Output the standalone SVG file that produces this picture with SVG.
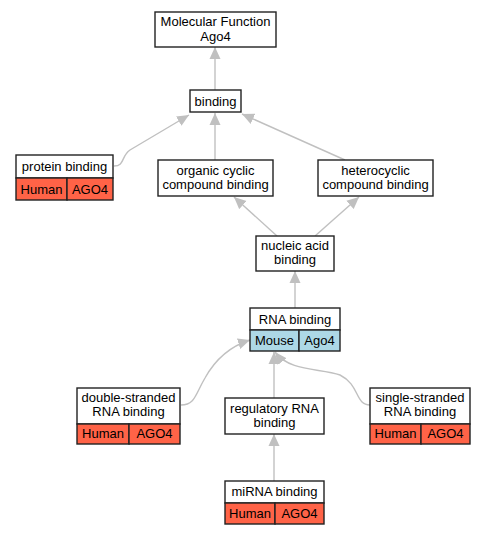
<svg xmlns="http://www.w3.org/2000/svg" width="485" height="536" viewBox="0 0 485 536">
<style>
text{font-family:"Liberation Sans",Arial,sans-serif;font-size:13px;text-anchor:middle;fill:#000}
.b{fill:#fff;stroke:#222;stroke-width:1.4}
.h{fill:#ff6347;stroke:#222;stroke-width:1.4}
.m{fill:#add8e6;stroke:#222;stroke-width:1.4}
.e{fill:none;stroke:#c0c0c0;stroke-width:1.4;marker-end:url(#a)}
</style>
<defs>
<marker id="a" markerUnits="userSpaceOnUse" markerWidth="13" markerHeight="12" viewBox="0 0 13 12" refX="12" refY="6" orient="auto">
<path d="M0,0.5 L12,6 L0,11.5 z" fill="#c0c0c0"/>
</marker>
</defs>
<rect width="485" height="536" fill="#fff"/>
<g id="edges">
<path class="e" d="M215,90 L215,47"/>
<path class="e" d="M114,166 C125,166 121,156 130,150 L189,115"/>
<path class="e" d="M215,160 L215,113"/>
<path class="e" d="M345,160 L242,114"/>
<path class="e" d="M277,236 L234,197"/>
<path class="e" d="M315,236 L359,197"/>
<path class="e" d="M295,308 L295,271"/>
<path class="e" d="M181,405 C195,405 195,395 205,378 C215,360 228,347 250,340"/>
<path class="e" d="M274,398 L274,352"/>
<path class="e" d="M370,405 C355,405 360,385 340,375 C320,368 290,372 275,352"/>
<path class="e" d="M274,481 L274,434"/>
</g>
<g id="n_mf"><rect class="b" x="155" y="12" width="121" height="35"/><text x="215.5" y="26">Molecular Function</text><text x="215.5" y="41">Ago4</text></g>
<g id="n_binding"><rect class="b" x="190" y="90" width="51" height="22"/><text x="215.5" y="105.5">binding</text></g>
<g id="n_protein"><rect class="b" x="16" y="155" width="97" height="23"/><text x="64.5" y="171">protein binding</text><rect class="h" x="16" y="178" width="51" height="22"/><text x="41.5" y="193.5">Human</text><rect class="h" x="67" y="178" width="46" height="22"/><text x="90" y="193.5">AGO4</text></g>
<g id="n_organic"><rect class="b" x="158" y="160" width="115" height="36"/><text x="215.5" y="174.5">organic cyclic</text><text x="215.5" y="188.5">compound binding</text></g>
<g id="n_hetero"><rect class="b" x="318" y="160" width="115" height="36"/><text x="375.5" y="174.5">heterocyclic</text><text x="375.5" y="188.5">compound binding</text></g>
<g id="n_nucleic"><rect class="b" x="256" y="236" width="78" height="35"/><text x="295" y="250">nucleic acid</text><text x="295" y="264">binding</text></g>
<g id="n_rna"><rect class="b" x="250" y="308" width="90" height="22"/><text x="295" y="323.5">RNA binding</text><rect class="m" x="250" y="330" width="49" height="21"/><text x="274.5" y="345">Mouse</text><rect class="m" x="299" y="330" width="41" height="21"/><text x="319.5" y="345">Ago4</text></g>
<g id="n_ds"><rect class="b" x="77" y="388" width="103" height="36"/><text x="128.5" y="402">double-stranded</text><text x="128.5" y="415.5">RNA binding</text><rect class="h" x="77" y="424" width="52" height="20"/><text x="103" y="438">Human</text><rect class="h" x="129" y="424" width="51" height="20"/><text x="154.5" y="438">AGO4</text></g>
<g id="n_reg"><rect class="b" x="225" y="398" width="99" height="36"/><text x="274.5" y="412.5">regulatory RNA</text><text x="274.5" y="426.5">binding</text></g>
<g id="n_ss"><rect class="b" x="370" y="388" width="100" height="36"/><text x="420" y="402">single-stranded</text><text x="420" y="415.5">RNA binding</text><rect class="h" x="370" y="424" width="51" height="20"/><text x="395.5" y="438">Human</text><rect class="h" x="421" y="424" width="49" height="20"/><text x="445.5" y="438">AGO4</text></g>
<g id="n_mirna"><rect class="b" x="225" y="481" width="99" height="22"/><text x="274.5" y="496">miRNA binding</text><rect class="h" x="225" y="503" width="50" height="21"/><text x="250" y="518">Human</text><rect class="h" x="275" y="503" width="49" height="21"/><text x="299.5" y="518">AGO4</text></g>
</svg>
